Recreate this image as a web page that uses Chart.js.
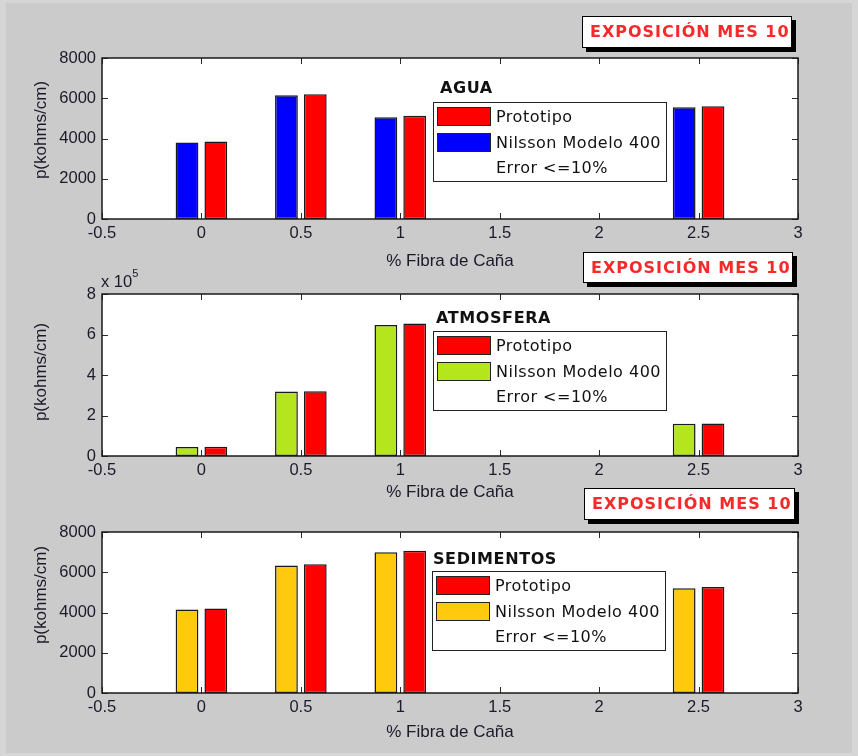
<!DOCTYPE html>
<html>
<head>
<meta charset="utf-8">
<script src="https://cdn.jsdelivr.net/npm/chart.js@4.4.1/dist/chart.umd.min.js"></script>
<style>
  body { margin: 0; background: #d6d6d6; }
  #figura { position: absolute; left: 6px; top: 3px; width: 846px; height: 750px; background: #cbcbcb; }
  #lienzo { position: absolute; left: 0; top: 0; width: 858px; height: 756px; }
  canvas { position: absolute; left: 0; top: 0; }
  .expo {
    position: absolute; background: #fff; border: 1px solid #000;
    box-shadow: 4px 4px 0 #000; box-sizing: border-box;
    font: bold 16px "DejaVu Sans", Verdana, sans-serif; letter-spacing: 1px;
    color: #f52a2a; padding-left: 7px; white-space: nowrap;
  }
  .tituloLey {
    position: absolute; font: bold 16px "DejaVu Sans", Verdana, sans-serif;
    letter-spacing: 0.6px; color: #111; line-height: 20px; white-space: nowrap;
  }
  .ley {
    position: absolute; width: 234px; height: 80px; background: #fff;
    border: 1.5px solid #222; box-sizing: border-box;
    font: 16px "DejaVu Sans", Verdana, sans-serif; letter-spacing: 0.5px; color: #111;
  }
  .fila { position: absolute; left: 0; height: 20px; width: 100%; }
  .muestra { position: absolute; left: 3px; top: 0; width: 54px; height: 19px; border: 1.5px solid #222; box-sizing: border-box; }
  .texto { position: absolute; left: 62px; top: 0; line-height: 20px; white-space: nowrap; }
  .exp10 { position: absolute; left: 101px; top: 270px; font: 16.5px "Liberation Sans", Arial, sans-serif; color: #1a1a2a; white-space: nowrap; }
  .exp10 sup { font-size: 11px; position: relative; top: -3px; }
</style>
</head>
<body>
<div id="figura"></div>
<div id="lienzo">
  <canvas id="g1" width="858" height="756"></canvas>
  <canvas id="g2" width="858" height="756"></canvas>
  <canvas id="g3" width="858" height="756"></canvas>
</div>
<script>
// datos
const fibra = [0, 0.5, 1, 2.5];

const aguaNilsson   = [3800, 6150, 5060, 5550];
const aguaPrototipo = [3850, 6200, 5130, 5600];

const atmNilsson    = [45000, 318000, 647000, 159000];
const atmPrototipo  = [46000, 320000, 654000, 160000];

const sedNilsson    = [4150, 6330, 7000, 5200];
const sedPrototipo  = [4200, 6400, 7070, 5270];

const xTicks = [-0.5, 0, 0.5, 1, 1.5, 2, 2.5, 3];
const yTicks = [0, 2000, 4000, 6000, 8000];
const yTicksAtm = [0, 200000, 400000, 600000, 800000];

const leyenda = ["Prototipo", "Nilsson Modelo 400", "Error <=10%"];
const titulos = ["AGUA", "ATMOSFERA", "SEDIMENTOS"];
const textoExpo = "EXPOSICIÓN MES 10";
const tituloX = "% Fibra de Caña";
const tituloY = "p(kohms/cm)";

const rojo = "#ff0000";
const azul = "#0000ff";
const verde = "#b5e61d";
const amarillo = "#ffc90e";

Chart.defaults.font.family = "'Liberation Sans', Arial, sans-serif";
Chart.defaults.color = "#1a1a2a";

const ejesMatlab = {
  id: "ejesMatlab",
  beforeDraw(chart) {
    const a = chart.chartArea;
    const ctx = chart.ctx;
    ctx.save();
    ctx.fillStyle = "#fff";
    ctx.fillRect(a.left, a.top, a.right - a.left, a.bottom - a.top);
    ctx.restore();
  },
  afterDatasetsDraw(chart) {
    const a = chart.chartArea;
    const ctx = chart.ctx;
    const largo = 6;
    ctx.save();
    ctx.strokeStyle = "#2a2a2a";
    ctx.lineWidth = 1;
    chart.scales.x.ticks.forEach(t => {
      const px = Math.round(chart.scales.x.getPixelForValue(t.value)) + 0.5;
      ctx.beginPath();
      ctx.moveTo(px, a.bottom); ctx.lineTo(px, a.bottom - largo);
      ctx.moveTo(px, a.top); ctx.lineTo(px, a.top + largo);
      ctx.stroke();
    });
    chart.scales.y.ticks.forEach(t => {
      const py = Math.round(chart.scales.y.getPixelForValue(t.value)) + 0.5;
      ctx.beginPath();
      ctx.moveTo(a.left, py); ctx.lineTo(a.left + largo, py);
      ctx.moveTo(a.right, py); ctx.lineTo(a.right - largo, py);
      ctx.stroke();
    });
    ctx.lineWidth = 1.5;
    ctx.strokeStyle = "#1a1a1a";
    ctx.strokeRect(a.left, a.top, a.right - a.left, a.bottom - a.top);

    // etiqueta del eje y
    const op = chart.options.plugins.ejesMatlab;
    ctx.translate(op.yLabelX, op.yLabelY);
    ctx.rotate(-Math.PI / 2);
    ctx.fillStyle = "#1a1a2a";
    ctx.font = "17px 'Liberation Sans', Arial, sans-serif";
    ctx.textAlign = "center";
    ctx.textBaseline = "middle";
    ctx.fillText(tituloY, 0, 0);
    ctx.restore();
  }
};

function crearGrafico(id, nilsson, prototipo, colorNilsson, marco, ticksY, escala) {
  const datos = v => fibra.map((x, i) => ({ x: x, y: v[i] }));
  const altoX = marco.altoX;
  return new Chart(document.getElementById(id), {
    type: "bar",
    data: {
      datasets: [
        { label: leyenda[1], data: datos(nilsson), backgroundColor: colorNilsson },
        { label: leyenda[0], data: datos(prototipo), backgroundColor: rojo }
      ]
    },
    options: {
      responsive: false,
      animation: false,
      events: [],
      layout: { padding: { top: marco.arriba, left: 0, right: 858 - 798, bottom: 756 - marco.abajo - altoX } },
      datasets: {
        bar: {
          categoryPercentage: 0.58,
          barPercentage: 0.79,
          borderWidth: 1.5,
          borderColor: "#1a1a1a",
          borderSkipped: false
        }
      },
      plugins: {
        legend: { display: false },
        tooltip: { enabled: false },
        ejesMatlab: { yLabelX: 41, yLabelY: marco.yEtiqueta }
      },
      scales: {
        x: {
          type: "linear",
          offset: false,
          min: xTicks[0],
          max: xTicks[xTicks.length - 1],
          afterBuildTicks: s => { s.ticks = xTicks.map(v => ({ value: v })); },
          grid: { display: false, drawTicks: false },
          border: { display: false },
          ticks: { padding: 5, font: { size: 16.5 }, maxRotation: 0, autoSkip: false, callback: v => String(v) },
          title: { display: true, text: tituloX, font: { size: 17 }, padding: 0 },
          afterFit: s => { s.height = altoX; }
        },
        y: {
          min: ticksY[0],
          max: ticksY[ticksY.length - 1],
          afterBuildTicks: s => { s.ticks = ticksY.map(v => ({ value: v })); },
          grid: { display: false, drawTicks: false },
          border: { display: false },
          ticks: { padding: 6, font: { size: 16.5 }, callback: v => String(v / escala) },
          afterFit: s => { s.width = 102; }
        }
      }
    },
    plugins: [ejesMatlab]
  });
}

const marcos = [
  { arriba: 58, abajo: 219, altoX: 53, yEtiqueta: 130, expo: [582, 16, 210, 32], tit: [440, 78], ley: [433, 102] },
  { arriba: 294, abajo: 456, altoX: 47, yEtiqueta: 372, expo: [583, 252, 210, 31], tit: [436, 308], ley: [433, 331] },
  { arriba: 532, abajo: 693, altoX: 50, yEtiqueta: 595, expo: [584, 488, 211, 32], tit: [433, 549], ley: [432, 571] }
];

crearGrafico("g1", aguaNilsson, aguaPrototipo, azul, marcos[0], yTicks, 1);
crearGrafico("g2", atmNilsson, atmPrototipo, verde, marcos[1], yTicksAtm, 100000);
crearGrafico("g3", sedNilsson, sedPrototipo, amarillo, marcos[2], yTicks, 1);

// cajas de texto y leyendas
const lienzo = document.getElementById("lienzo");
const coloresNilsson = [azul, verde, amarillo];

marcos.forEach((m, k) => {
  const e = document.createElement("div");
  e.className = "expo";
  e.style.left = m.expo[0] + "px";
  e.style.top = m.expo[1] + "px";
  e.style.width = m.expo[2] + "px";
  e.style.height = m.expo[3] + "px";
  e.style.lineHeight = (m.expo[3] - 2) + "px";
  e.textContent = textoExpo;
  lienzo.appendChild(e);

  const t = document.createElement("div");
  t.className = "tituloLey";
  t.style.left = m.tit[0] + "px";
  t.style.top = m.tit[1] + "px";
  t.textContent = titulos[k];
  lienzo.appendChild(t);

  const caja = document.createElement("div");
  caja.className = "ley";
  caja.style.left = m.ley[0] + "px";
  caja.style.top = m.ley[1] + "px";
  const colores = [rojo, coloresNilsson[k], null];
  leyenda.forEach((txt, i) => {
    const fila = document.createElement("div");
    fila.className = "fila";
    fila.style.top = (4 + i * 25.5) + "px";
    if (colores[i]) {
      fila.innerHTML += `<div class="muestra" style="background:${colores[i]}"></div>`;
    }
    fila.innerHTML += `<div class="texto">${txt.replace("<", "&lt;")}</div>`;
    caja.appendChild(fila);
  });
  lienzo.appendChild(caja);
});

const e10 = document.createElement("div");
e10.className = "exp10";
e10.innerHTML = "x 10<sup>5</sup>";
lienzo.appendChild(e10);
</script>
</body>
</html>
